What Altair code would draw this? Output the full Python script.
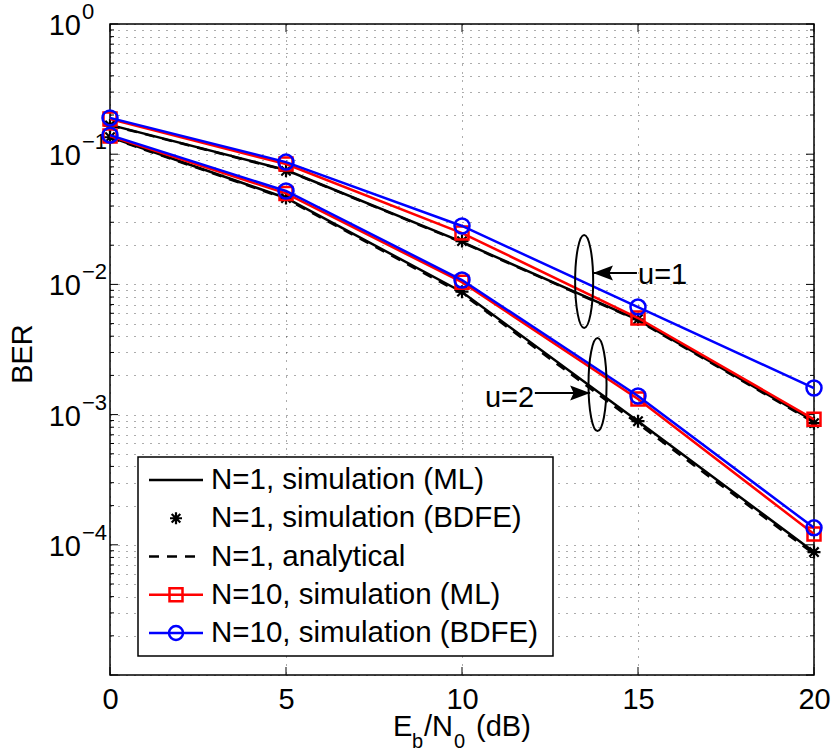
import altair as alt
import pandas as pd

FONT = "Liberation Sans"

# ---------------- data ----------------
snr = [0, 5, 10, 15, 20]
# u = 1 group
ml1_u1 = [0.168, 0.0756, 0.0212, 0.00533, 0.00089]
bdfe1_u1 = [0.166, 0.0745, 0.0215, 0.0054, 0.00086]
ana1_u1 = [0.167, 0.0752, 0.0210, 0.00528, 0.00087]
ml10_u1 = [0.186, 0.084, 0.0248, 0.00552, 0.00092]
bdfe10_u1 = [0.190, 0.087, 0.0281, 0.0067, 0.0016]
# u = 2 group
ml1_u2 = [0.1355, 0.0461, 0.00875, 0.00089, 0.000088]
bdfe1_u2 = [0.1350, 0.0460, 0.00880, 0.00089, 0.000088]
ana1_u2 = [0.1340, 0.0455, 0.00850, 0.00085, 0.000085]
ml10_u2 = [0.138, 0.0500, 0.0104, 0.00132, 0.000121]
bdfe10_u2 = [0.140, 0.0522, 0.0108, 0.00139, 0.000135]

legend_labels = ["N=1, simulation (ML)", "N=1, simulation (BDFE)", "N=1, analytical",
                 "N=10, simulation (ML)", "N=10, simulation (BDFE)"]

x_ticks = [0, 5, 10, 15, 20]
y_major = [1e-5, 1e-4, 1e-3, 1e-2, 1e-1, 1.0]
y_minor = [k * 10.0 ** e for e in range(-5, 0) for k in range(2, 10)]
y_label_vals = [1e-4, 1e-3, 1e-2, 1e-1, 1.0]
y_label_exp = ["\u22124", "\u22123", "\u22122", "\u22121", "0"]

# annotations
ellipse_x = [13.47, 13.85]
ellipse_y = [0.01052, 0.0017]
arrow_from = [14.97, 12.07]
arrow_to = [13.72, 13.64]
arrow_y = [0.01224, 0.001465]
ann_text = ["u=1", "u=2"]
ann_x = [15.0, 12.05]
ann_y = [0.0118, 0.00135]


def series_df(u1, u2):
    rows = []
    for u, vals in (("u=1", u1), ("u=2", u2)):
        for x, v in zip(snr, vals):
            rows.append({"snr": x, "ber": v, "u": u})
    return pd.DataFrame(rows)


xs = alt.Scale(domain=[0, 20], nice=False, zero=False)
ys = alt.Scale(type="log", domain=[1e-5, 1], nice=False)

xaxis = alt.Axis(values=x_ticks, grid=True, gridDash=[1, 7], gridColor="black",
                 gridOpacity=0.65, gridWidth=1, ticks=False, domain=False,
                 labelFont=FONT, labelFontSize=29, labelColor="black",
                 labelPadding=10, labelFlush=False, title=None)
yaxis = alt.Axis(values=sorted(y_major + y_minor), grid=True, gridDash=[1, 7],
                 gridColor="black", gridOpacity=0.65, gridWidth=1, ticks=False,
                 domain=False, labels=False, title=None)


def X(f):
    return alt.X(f, scale=xs, axis=xaxis)


def Y(f):
    return alt.Y(f, scale=ys, axis=yaxis)


ASTER = "M0,-1L0,1M-1,0L1,0M-0.72,-0.72L0.72,0.72M-0.72,0.72L0.72,-0.72"
ELLIPSE = ("M0,-1C0.107,-1 0.194,-0.552 0.194,0C0.194,0.552 0.107,1 0,1"
           "C-0.107,1 -0.194,0.552 -0.194,0C-0.194,-0.552 -0.107,-1 0,-1Z")
ARROW_L = "M0,0L4,-1.5L3.3,0L4,1.5Z"
ARROW_R = "M0,0L-4,-1.5L-3.3,0L-4,1.5Z"

layers = []

# inward ticks
tick_major_y = pd.DataFrame({"v": y_major})
tick_minor_y = pd.DataFrame({"v": y_minor})
tick_x = pd.DataFrame({"s": x_ticks})
W, H = 704, 651
for df, ln in ((tick_major_y, 8), (tick_minor_y, 4)):
    layers.append(alt.Chart(df).mark_rule(color="black", strokeWidth=1).encode(
        y=Y("v:Q"), x=alt.value(0), x2=alt.value(ln)))
    layers.append(alt.Chart(df).mark_rule(color="black", strokeWidth=1).encode(
        y=Y("v:Q"), x=alt.value(W), x2=alt.value(W - ln)))
layers.append(alt.Chart(tick_x).mark_rule(color="black", strokeWidth=1).encode(
    x=X("s:Q"), y=alt.value(H), y2=alt.value(H - 8)))
layers.append(alt.Chart(tick_x).mark_rule(color="black", strokeWidth=1).encode(
    x=X("s:Q"), y=alt.value(0), y2=alt.value(8)))

# y tick labels 10^k
ylab = pd.DataFrame({"v": y_label_vals, "base": ["10"] * len(y_label_vals), "exp": y_label_exp})
layers.append(alt.Chart(ylab).mark_text(align="right", baseline="middle", font=FONT,
                                        fontSize=29, color="black", dy=2).encode(
    y=Y("v:Q"), x=alt.value(-29), text="base:N"))
layers.append(alt.Chart(ylab).mark_text(align="left", baseline="middle", font=FONT,
                                        fontSize=22, color="black", dy=-12).encode(
    y=Y("v:Q"), x=alt.value(-28), text="exp:N"))

# data series
d_ml1 = series_df(ml1_u1, ml1_u2)
d_bd1 = series_df(bdfe1_u1, bdfe1_u2)
d_an1 = series_df(ana1_u1, ana1_u2)
d_ml10 = series_df(ml10_u1, ml10_u2)
d_bd10 = series_df(bdfe10_u1, bdfe10_u2)

layers.append(alt.Chart(d_ml1).mark_line(color="black", strokeWidth=2.5).encode(
    x=X("snr:Q"), y=Y("ber:Q"), detail="u:N"))
layers.append(alt.Chart(d_bd1).mark_point(shape=ASTER, filled=False, color="black",
                                          strokeWidth=2.2, size=169, opacity=1).encode(
    x=X("snr:Q"), y=Y("ber:Q")))
layers.append(alt.Chart(d_an1).mark_line(color="black", strokeWidth=2.5, strokeDash=[10, 8]).encode(
    x=X("snr:Q"), y=Y("ber:Q"), detail="u:N"))
layers.append(alt.Chart(d_ml10).mark_line(color="#ff0000", strokeWidth=2.5).encode(
    x=X("snr:Q"), y=Y("ber:Q"), detail="u:N"))
layers.append(alt.Chart(d_ml10).mark_point(shape="square", filled=False, color="#ff0000",
                                           strokeWidth=2.5, size=169, opacity=1).encode(
    x=X("snr:Q"), y=Y("ber:Q")))
layers.append(alt.Chart(d_bd10).mark_line(color="#0000ff", strokeWidth=2.5).encode(
    x=X("snr:Q"), y=Y("ber:Q"), detail="u:N"))
layers.append(alt.Chart(d_bd10).mark_point(shape="circle", filled=False, color="#0000ff",
                                           strokeWidth=2.5, size=225, opacity=1).encode(
    x=X("snr:Q"), y=Y("ber:Q")))

# annotations
ell = pd.DataFrame({"x": ellipse_x, "y": ellipse_y})
layers.append(alt.Chart(ell).mark_point(shape=ELLIPSE, filled=False, color="black",
                                        strokeWidth=2, size=8649, opacity=1).encode(
    x=X("x:Q"), y=Y("y:Q")))
arr = pd.DataFrame({"x1": arrow_from, "x2": arrow_to, "y": arrow_y})
layers.append(alt.Chart(arr).mark_rule(color="black", strokeWidth=2).encode(
    x=X("x1:Q"), x2="x2:Q", y=Y("y:Q")))
head_l = pd.DataFrame({"x": [arrow_to[0]], "y": [arrow_y[0]]})
head_r = pd.DataFrame({"x": [arrow_to[1]], "y": [arrow_y[1]]})
layers.append(alt.Chart(head_l).mark_point(shape=ARROW_L, filled=True, color="black",
                                           size=100, opacity=1).encode(
    x=X("x:Q"), y=Y("y:Q")))
layers.append(alt.Chart(head_r).mark_point(shape=ARROW_R, filled=True, color="black",
                                           size=100, opacity=1).encode(
    x=X("x:Q"), y=Y("y:Q")))
ann1 = pd.DataFrame({"x": [ann_x[0]], "y": [ann_y[0]], "t": [ann_text[0]]})
ann2 = pd.DataFrame({"x": [ann_x[1]], "y": [ann_y[1]], "t": [ann_text[1]]})
layers.append(alt.Chart(ann1).mark_text(align="left", baseline="middle", font=FONT,
                                        fontSize=29, color="black").encode(
    x=X("x:Q"), y=Y("y:Q"), text="t:N"))
layers.append(alt.Chart(ann2).mark_text(align="right", baseline="middle", font=FONT,
                                        fontSize=29, color="black").encode(
    x=X("x:Q"), y=Y("y:Q"), text="t:N"))

# legend (drawn manually, MATLAB style)
one = pd.DataFrame({"a": [0]})
layers.append(alt.Chart(one).mark_rect(fill="white", stroke="black", strokeWidth=1.5).encode(
    x=alt.value(28), x2=alt.value(443), y=alt.value(433), y2=alt.value(632)))
leg_y = [456 + 38.25 * i for i in range(5)]
line_styles = [("black", None), (None, None), ("black", [10, 8]), ("#ff0000", None), ("#0000ff", None)]
for i, (col, dash) in enumerate(line_styles):
    if col is not None:
        kw = dict(color=col, strokeWidth=2.5)
        if dash:
            kw["strokeDash"] = dash
        layers.append(alt.Chart(one).mark_rule(**kw).encode(
            x=alt.value(39), x2=alt.value(93), y=alt.value(leg_y[i])))
layers.append(alt.Chart(one).mark_point(shape=ASTER, filled=False, color="black",
                                        strokeWidth=2.2, size=144, opacity=1).encode(
    x=alt.value(66), y=alt.value(leg_y[1])))
layers.append(alt.Chart(one).mark_point(shape="square", filled=False, color="#ff0000",
                                        strokeWidth=2.5, size=169, opacity=1).encode(
    x=alt.value(66), y=alt.value(leg_y[3])))
layers.append(alt.Chart(one).mark_point(shape="circle", filled=False, color="#0000ff",
                                        strokeWidth=2.5, size=196, opacity=1).encode(
    x=alt.value(66), y=alt.value(leg_y[4])))
for i, lab in enumerate(legend_labels):
    layers.append(alt.Chart(pd.DataFrame({"t": [lab]})).mark_text(
        align="left", baseline="middle", font=FONT, fontSize=29.5, color="black").encode(
        x=alt.value(101), y=alt.value(leg_y[i]), text="t:N"))

# axis titles
layers.append(alt.Chart(pd.DataFrame({"t": ["BER"]})).mark_text(
    align="center", baseline="middle", angle=270, font=FONT, fontSize=29, color="black").encode(
    x=alt.value(-87), y=alt.value(330), text="t:N"))
title_parts = [("E", 283, 712, 29), ("b", 302, 724, 20), ("/N", 314, 712, 29),
               ("0", 344, 724, 20), ("(dB)", 366, 712, 29)]
for t, px, py, fs in title_parts:
    layers.append(alt.Chart(pd.DataFrame({"t": [t]})).mark_text(
        align="left", baseline="alphabetic", font=FONT, fontSize=fs, color="black").encode(
        x=alt.value(px), y=alt.value(py), text="t:N"))

chart = alt.layer(*layers).properties(
    width=W, height=H,
    padding={"left": 110, "top": 24, "right": 19, "bottom": 80},
    autosize=alt.AutoSizeParams(type="none"),
    background="white",
).configure_view(stroke="black", strokeWidth=1.5)

chart.save("out.html", embed_options={"renderer": "svg", "actions": False})
